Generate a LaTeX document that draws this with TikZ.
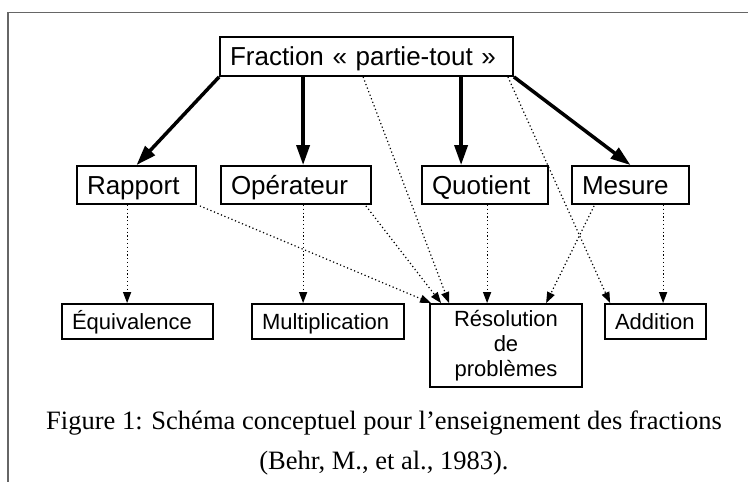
\documentclass[tikz,border=0pt]{standalone}
\usepackage{fontspec}
\setmainfont{Liberation Serif}
\setsansfont{Liberation Sans}
\usetikzlibrary{arrows.meta,calc}
\begin{document}
\begin{tikzpicture}[x=1pt,y=-1pt,
  boxbase/.style={draw, line width=1.8pt, inner ysep=0pt, font=\sffamily},
  bigbox/.style={boxbase, font=\sffamily\fontsize{26}{30}\selectfont, text height=18.6pt, text depth=0pt, align=left, inner xsep=10pt},
  smallbox/.style={boxbase, font=\sffamily\fontsize{22}{25}\selectfont, text height=15.8pt, text depth=0pt, align=left, inner xsep=10pt},
  thickarrow/.style={line width=3.5pt, -{Triangle[length=20pt,width=13pt]}},
  dotarrow/.style={line width=1.2pt, dash pattern=on 1.2pt off 2.6pt, -{Triangle[length=11pt,width=8pt]}},
  captext/.style={font=\rmfamily\fontsize{26.5}{30}\selectfont, inner sep=0pt, anchor=base}
]
\useasboundingbox (0,0) rectangle (748,482);
\draw[line width=1.2pt, black!60] (8,482) -- (8,12.7) -- (748,12.7);

\node[bigbox, text width=273pt, minimum height=39pt] (top) at (366.5,56.5) {Fraction « partie-tout »};
\node[bigbox, text width=99pt, minimum height=38pt] (rap) at (136.5,185) {Rapport};
\node[bigbox, text width=130pt, minimum height=38pt] (op) at (296,185) {Opérateur};
\node[bigbox, text width=106pt, minimum height=38pt] (quo) at (485,185) {Quotient};
\node[bigbox, text width=97pt, minimum height=38pt] (mes) at (630.5,185) {Mesure};

\node[smallbox, text width=131pt, minimum height=35pt] (equ) at (137.5,321.5) {Équivalence};
\node[smallbox, text width=132pt, minimum height=35pt] (mul) at (328,321.5) {Multiplication};
\node[smallbox, text width=81pt, minimum height=35pt] (add) at (655.5,321.5) {Addition};
\node[boxbase, font=\sffamily\fontsize{22}{25}\selectfont, align=center, minimum width=152pt, minimum height=83pt, inner xsep=0pt] (res) at (506,345.5) {Résolution\\de\\problèmes};

% thick arrows
\draw[thickarrow] (top.south west) -- (rap.north);
\draw[thickarrow] ($(top.south west)+(84,0)$) -- ($(op.north west)+(83,0)$);
\draw[thickarrow] ($(top.south west)+(242,0)$) -- ($(quo.north west)+(40,0)$);
\draw[thickarrow] (top.south east) -- (mes.north);

% dotted arrows
\draw[dotarrow] ($(rap.south west)+(51,0)$) -- ($(equ.north west)+(66,0)$);
\draw[dotarrow] ($(rap.south east)+(3,1)$) -- ($(res.north west)+(2,0)$);
\draw[dotarrow] ($(op.south west)+(83,0)$) -- ($(mul.north west)+(52,0)$);
\draw[dotarrow] ($(op.south east)+(-6,1)$) -- ($(res.north west)+(12,0)$);
\draw[dotarrow] ($(top.south west)+(144,0)$) -- ($(res.north west)+(20,0)$);
\draw[dotarrow] ($(quo.south west)+(66,0)$) -- ($(res.north west)+(58,0)$);
\draw[dotarrow] ($(mes.south west)+(23,1)$) -- ($(res.north west)+(117,0)$);
\draw[dotarrow] ($(top.south east)+(-6,0)$) -- ($(add.north west)+(6,0)$);
\draw[dotarrow] ($(mes.south west)+(92,0)$) -- ($(add.north west)+(59,0)$);

\node[captext] (cap1) at (384,429) {Figure 1: Schéma conceptuel pour l’enseignement des fractions};
\node[captext] (cap2) at (384,469) {(Behr, M., et al., 1983).};
\end{tikzpicture}
\end{document}
